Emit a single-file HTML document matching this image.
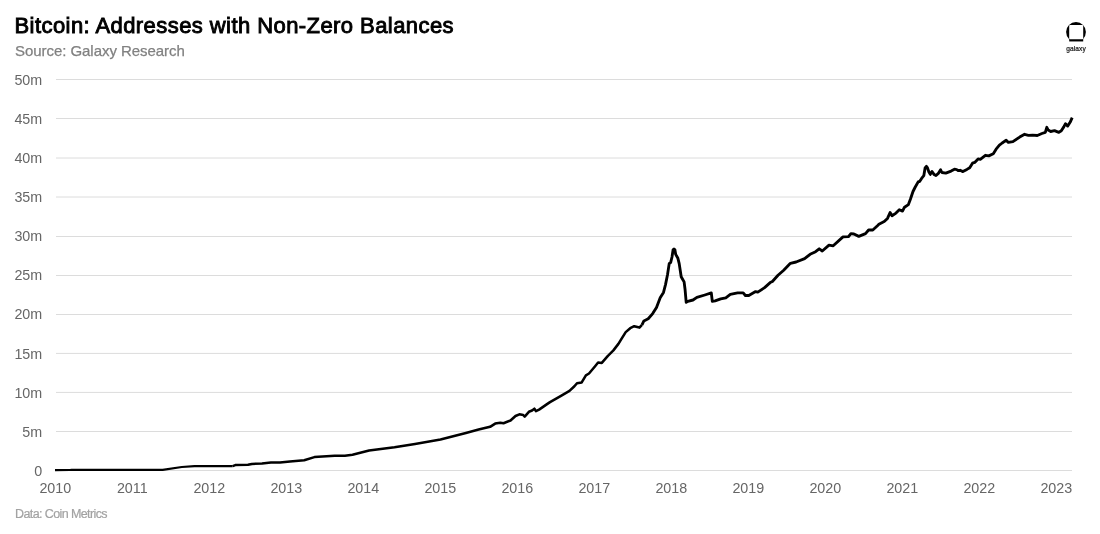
<!DOCTYPE html>
<html><head><meta charset="utf-8"><title>Bitcoin: Addresses with Non-Zero Balances</title>
<style>
html,body{margin:0;padding:0;background:#fff;}
body{width:1100px;height:534px;overflow:hidden;position:relative;font-family:"Liberation Sans",sans-serif;}
.title{position:absolute;left:14.5px;top:13.1px;font-size:22px;font-weight:normal;-webkit-text-stroke:0.9px #000;color:#000;letter-spacing:0.43px;white-space:nowrap;line-height:26px;}
.sub{position:absolute;left:15px;top:41px;font-size:15px;color:#818181;-webkit-text-stroke:0.25px #818181;letter-spacing:-0.05px;white-space:nowrap;line-height:20px;}
.foot{position:absolute;left:15px;top:506px;font-size:12.5px;color:#a2a2a2;-webkit-text-stroke:0.2px #a2a2a2;letter-spacing:-0.6px;white-space:nowrap;line-height:16px;}
svg{position:absolute;left:0;top:0;}
.grid line{stroke:#dcdcdc;stroke-width:1;}
.lab text{font-family:"Liberation Sans",sans-serif;font-size:14.3px;fill:#666;}
.logo text{font-family:"Liberation Sans",sans-serif;font-size:6.6px;fill:#111;stroke:#111;stroke-width:0.2px;}
</style></head><body>
<svg width="1100" height="534" viewBox="0 0 1100 534">
<g class="grid">
<line x1="56" x2="1072" y1="470.50" y2="470.50"/>
<line x1="56" x2="1072" y1="431.50" y2="431.50"/>
<line x1="56" x2="1072" y1="392.40" y2="392.40"/>
<line x1="56" x2="1072" y1="353.40" y2="353.40"/>
<line x1="56" x2="1072" y1="314.50" y2="314.50"/>
<line x1="56" x2="1072" y1="275.50" y2="275.50"/>
<line x1="56" x2="1072" y1="236.50" y2="236.50"/>
<line x1="56" x2="1072" y1="197.00" y2="197.00"/>
<line x1="56" x2="1072" y1="158.00" y2="158.00"/>
<line x1="56" x2="1072" y1="118.50" y2="118.50"/>
<line x1="56" x2="1072" y1="79.50" y2="79.50"/>
</g>
<g class="lab">
<text x="42.2" y="475.8" text-anchor="end">0</text>
<text x="42.2" y="436.7" text-anchor="end">5m</text>
<text x="42.2" y="397.6" text-anchor="end">10m</text>
<text x="42.2" y="358.5" text-anchor="end">15m</text>
<text x="42.2" y="319.4" text-anchor="end">20m</text>
<text x="42.2" y="280.3" text-anchor="end">25m</text>
<text x="42.2" y="241.2" text-anchor="end">30m</text>
<text x="42.2" y="202.1" text-anchor="end">35m</text>
<text x="42.2" y="163.0" text-anchor="end">40m</text>
<text x="42.2" y="123.9" text-anchor="end">45m</text>
<text x="42.2" y="84.8" text-anchor="end">50m</text>
<text x="55.3" y="492.5" text-anchor="middle">2010</text>
<text x="132.3" y="492.5" text-anchor="middle">2011</text>
<text x="209.3" y="492.5" text-anchor="middle">2012</text>
<text x="286.3" y="492.5" text-anchor="middle">2013</text>
<text x="363.3" y="492.5" text-anchor="middle">2014</text>
<text x="440.3" y="492.5" text-anchor="middle">2015</text>
<text x="517.3" y="492.5" text-anchor="middle">2016</text>
<text x="594.3" y="492.5" text-anchor="middle">2017</text>
<text x="671.3" y="492.5" text-anchor="middle">2018</text>
<text x="748.3" y="492.5" text-anchor="middle">2019</text>
<text x="825.3" y="492.5" text-anchor="middle">2020</text>
<text x="902.3" y="492.5" text-anchor="middle">2021</text>
<text x="979.3" y="492.5" text-anchor="middle">2022</text>
<text x="1056.3" y="492.5" text-anchor="middle">2023</text>
</g>
<path d="M55.0 470.1 L70.0 470.0 L71.5 469.9 L162.7 469.9 L181.8 467.0 L194.5 466.1 L232.7 466.1" fill="none" stroke="#000" stroke-width="2.15" stroke-linejoin="round" stroke-linecap="butt"/>
<path d="M232.7 466.1 L235.3 465.1 L248.0 464.8 L251.8 463.9 L262.0 463.5 L270.9 462.5 L280.0 462.5 L290.0 461.4 L304.2 460.3 L314.4 457.1 L334.7 455.8 L344.9 455.8 L352.5 454.8 L369.1 450.4 L394.5 447.2 L415.0 444.0 L440.5 439.5 L465.9 432.9 L478.6 429.6 L490.1 426.8 L495.2 423.6 L500.3 422.7 L503.5 423.3 L510.5 420.5 L515.5 416.0 L519.4 414.3 L523.2 415.0 L524.7 416.6 L528.9 411.8 L532.1 410.5 L534.4 408.7 L535.9 411.2 L539.1 409.6 L547.4 403.9 L550.0 402.1 L561.0 395.8 L569.5 390.9 L574.4 386.3 L577.0 383.2 L581.7 382.4 L585.9 375.3 L589.0 373.5 L595.1 366.2 L598.1 362.5 L601.8 362.9 L607.9 355.8 L613.4 350.4 L618.4 343.9 L621.8 338.3 L625.7 332.1 L630.2 328.2 L634.2 326.2 L639.4 327.6 L642.0 324.8" fill="none" stroke="#000" stroke-width="2.55" stroke-linejoin="round" stroke-linecap="butt"/>
<path d="M642.0 324.8 L643.9 320.9 L648.2 318.7 L652.7 313.6 L656.5 307.5 L660.2 297.7 L663.5 292.4 L665.5 284.6 L667.5 274.7 L669.2 263.6 L670.7 262.3 L672.0 257.0 L673.1 249.8 L674.0 248.9 L674.9 249.8 L675.7 254.4 L677.9 258.3 L679.2 263.6 L681.2 276.7 L682.3 278.7 L684.1 281.9 L685.1 289.8 L686.2 302.3 L687.8 301.3 L693.0 300.0 L696.9 297.4 L704.8 295.0 L711.3 292.9 L712.3 301.4 L715.1 300.9 L720.7 298.9 L725.8 297.8 L730.3 294.4 L737.6 292.9 L743.2 292.9 L745.4 295.5 L748.8 295.5 L755.6 291.6 L757.8 292.1 L764.6 287.6 L770.2 282.6 L772.4 281.5 L778.0 275.3 L783.7 270.2 L790.4 263.3 L796.1 262.0 L804.6 258.6 L810.1 254.3 L815.6 251.7 L819.2 248.8 L822.3 251.0 L829.0 245.2 L833.2 245.8 L843.0 236.9 L848.5 236.7 L850.9 233.6 L853.9 234.0 L858.8 236.4 L865.5 233.6 L868.6 230.0 L872.8 230.0 L877.7 225.5 L878.9 224.3 L884.2 221.6 L887.5 218.4 L890.1 212.5 L892.0 215.7 L896.0 213.1 L899.3 209.8 L902.5 211.1 L904.5 207.2 L908.4 204.6 L910.4 199.3 L913.0 191.5 L915.0 187.5 L918.3 181.6 L919.6 181.6 L921.6 178.4 L923.8 175.7 L925.1 167.9 L926.4 166.3 L927.5 167.9 L928.8 171.8 L930.3 174.4 L932.0 171.5 L934.0 174.4 L936.0 175.5 L938.6 173.1 L940.6 169.8 L941.9 172.5 L945.8 173.1 L951.1 171.1 L954.5 169.2 L956.7 169.6 L958.1 170.5 L960.1 170.3 L962.9 171.6 L966.9 169.4 L969.7 167.7 L972.5 163.2 L974.7 162.4 L978.1 158.9 L980.3 159.3 L985.4 155.3 L988.8 155.9 L993.3 153.7 L996.1 149.2 L999.4 145.2 L1002.2 143.0 L1006.2 140.2 L1008.4 142.4 L1012.9 141.6 L1019.7 137.1 L1024.6 134.3 L1028.4 135.3 L1032.6 135.2 L1037.3 135.5 L1041.9 133.5 L1045.3 132.4 L1046.8 127.3 L1048.2 130.1 L1050.7 131.5 L1054.5 130.7 L1058.8 132.4 L1061.3 130.7 L1063.8 126.9 L1065.5 123.7 L1067.6 126.1 L1070.1 122.3 L1072.2 117.6" fill="none" stroke="#000" stroke-width="2.85" stroke-linejoin="round" stroke-linecap="butt"/>
<g class="logo">
<clipPath id="lc"><rect x="1060" y="20" width="32" height="19.5"/></clipPath>
<circle cx="1076" cy="32" r="9.9" fill="#000" clip-path="url(#lc)"/>
<rect x="1069.2" y="38" width="14" height="3.45" fill="#000"/>
<rect x="1069.2" y="24.9" width="14" height="14.3" rx="0.8" fill="#fff"/>
<text x="1066.2" y="50.6" textLength="19.6" lengthAdjust="spacing">galaxy</text>
</g>
</svg>
<div class="title">Bitcoin: Addresses with Non-Zero Balances</div>
<div class="sub">Source: Galaxy Research</div>
<div class="foot">Data: Coin Metrics</div>
</body></html>
